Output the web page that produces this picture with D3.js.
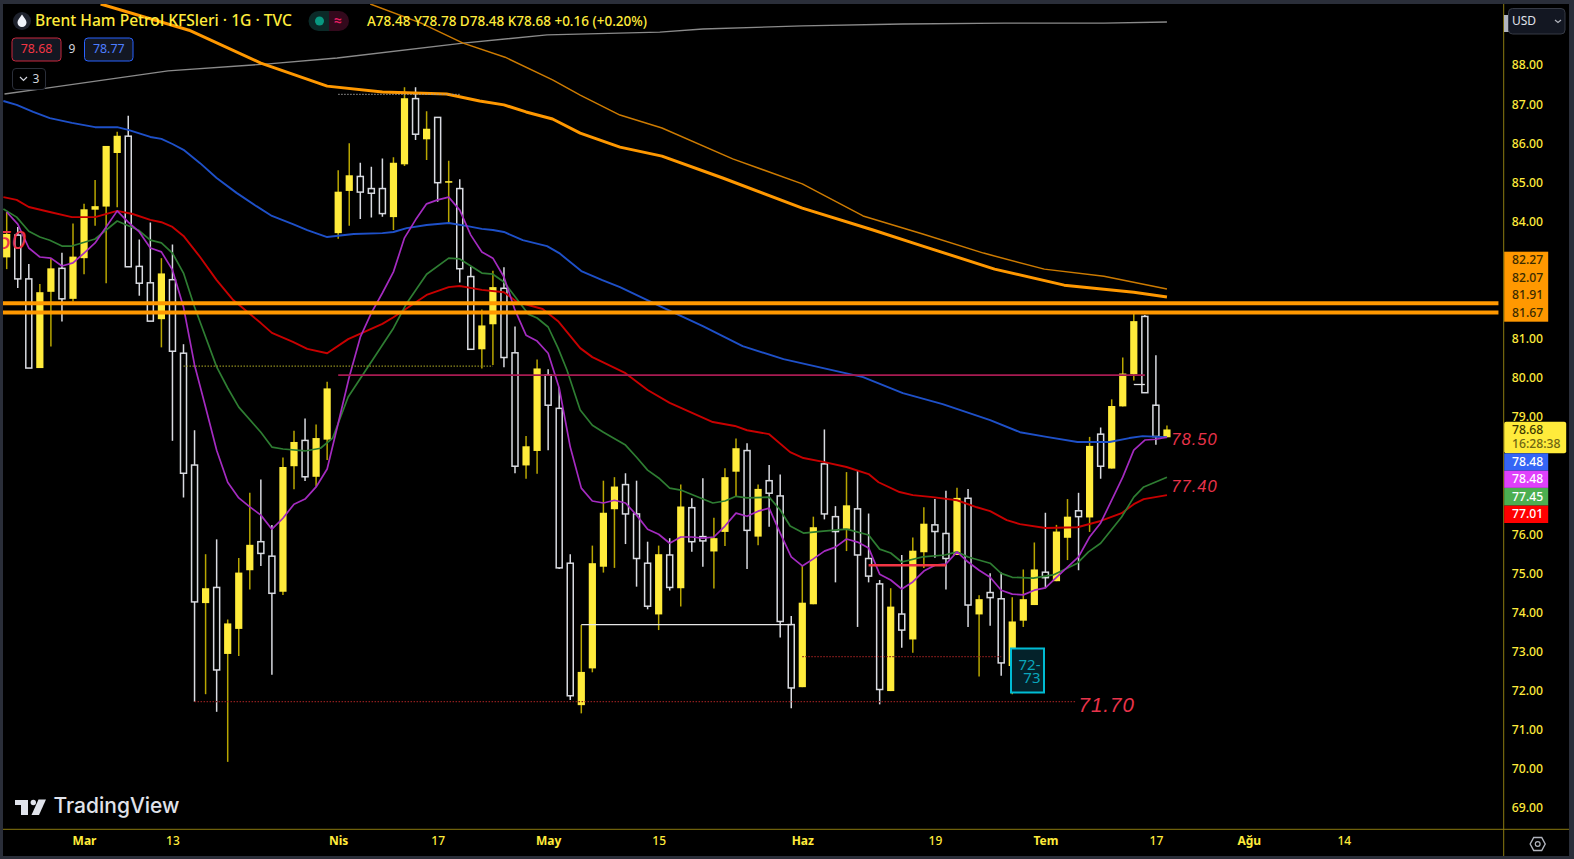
<!DOCTYPE html>
<html><head><meta charset="utf-8"><title>Brent</title>
<script src="https://cdn.jsdelivr.net/npm/d3@7"></script>
<style>
html,body{margin:0;padding:0;background:#000;overflow:hidden}
text{font-family:"Noto Sans",Roboto,sans-serif}
</style></head><body>
<svg id="c" width="1574" height="859"></svg>
<script>
const candleOpen=[83.08,83.65,82.53,80.25,82.20,82.80,82.02,83.06,84.30,84.38,85.75,86.18,82.85,82.43,81.50,82.51,80.63,77.77,74.24,74.64,72.94,73.58,75.08,75.81,75.44,74.53,77.74,78.40,77.47,78.42,83.70,84.78,85.15,84.84,84.84,84.11,85.46,87.14,86.10,86.66,84.99,84.84,82.59,80.73,81.37,82.29,80.64,77.76,78.13,80.07,79.22,75.26,71.63,72.57,75.17,76.64,77.27,76.52,75.26,73.95,75.47,74.62,76.68,75.94,75.56,76.06,77.60,78.14,75.94,77.37,76.98,73.69,72.09,74.21,77.80,76.45,76.14,76.65,75.38,74.73,71.99,73.96,73.31,75.54,76.24,76.02,75.47,76.92,73.95,74.51,74.35,72.63,73.79,74.19,75.03,74.80,75.91,76.60,76.43,78.56,77.68,79.27,80.09,81.57,79.30,78.48];
const candleHigh=[84.25,83.86,82.91,82.40,83.04,83.20,83.95,84.45,85.06,85.93,86.29,86.70,83.54,83.97,83.06,83.41,80.86,78.66,75.49,75.87,73.82,75.39,77.06,77.40,76.24,77.96,78.65,78.96,78.81,79.90,85.31,86.00,85.50,85.40,85.61,85.64,87.43,87.43,86.82,86.66,85.55,85.08,82.84,81.75,82.74,82.83,81.31,78.51,80.47,80.22,79.76,75.49,73.68,75.71,77.37,77.46,77.56,77.37,75.81,75.71,75.90,77.27,76.92,77.43,76.42,77.69,78.45,78.33,77.27,77.77,77.53,73.91,75.21,76.45,78.68,76.72,77.59,77.64,76.53,74.83,74.62,75.47,75.92,76.69,76.90,77.11,77.19,77.16,74.44,75.00,75.02,74.39,75.10,75.79,76.55,76.24,76.90,77.06,78.49,78.73,79.45,80.52,81.63,81.61,80.58,78.78];
const candleLow=[82.78,82.30,80.25,80.25,80.80,81.44,81.95,82.65,83.89,82.42,84.36,82.84,82.10,81.45,80.78,78.39,76.94,71.72,71.91,71.46,70.18,72.89,74.59,75.19,72.41,74.45,77.15,77.36,77.22,77.90,83.56,83.89,84.06,84.10,84.12,83.78,85.42,86.08,85.57,84.50,83.95,82.44,80.73,80.24,80.33,80.27,77.56,77.42,77.55,78.15,75.11,71.76,71.42,72.47,75.02,75.14,75.75,74.66,74.08,73.55,74.56,74.15,75.55,75.17,74.61,75.70,76.98,75.11,75.72,76.19,73.36,71.55,72.09,74.21,76.38,74.77,75.57,73.63,74.77,71.65,71.99,73.10,72.97,75.14,75.40,74.59,75.47,73.63,72.36,73.66,72.38,71.91,73.63,74.19,74.62,74.80,75.34,75.08,76.06,77.42,77.68,79.27,79.93,79.62,78.29,78.48];
const candleClose=[83.68,82.53,80.25,82.19,82.80,82.02,83.10,84.31,84.39,85.93,86.19,82.84,82.42,81.45,82.67,80.68,77.56,74.27,74.62,72.53,73.72,75.02,75.73,75.51,74.49,77.72,78.36,77.47,78.46,79.73,84.76,85.18,84.75,84.72,84.20,85.50,87.15,86.23,86.37,84.99,85.03,82.79,80.73,81.34,82.32,80.52,77.74,78.25,80.24,79.30,75.14,71.87,72.48,75.26,76.55,77.22,76.52,75.38,74.16,75.49,74.64,76.71,75.81,75.83,75.90,77.46,78.20,76.10,77.16,77.05,73.77,72.07,74.25,76.18,76.52,76.07,76.74,75.47,74.93,72.03,74.15,73.55,75.58,76.27,76.07,75.38,76.93,74.19,74.34,74.38,72.71,73.77,74.34,75.10,74.89,76.07,76.45,76.45,78.26,77.74,79.28,80.11,81.45,79.62,78.50,78.68];

const emaPurple=[84.24,83.93,83.32,83.09,83.06,82.86,82.94,83.19,83.45,83.86,84.27,83.98,83.73,83.32,83.22,82.76,81.81,80.33,79.25,78.15,77.33,76.93,76.70,76.49,76.13,76.41,76.77,76.90,77.21,77.67,78.84,80.02,81.04,81.66,82.17,82.71,83.58,84.04,84.45,84.55,84.62,84.29,83.65,83.22,83.06,82.58,81.73,81.09,80.94,80.63,79.74,78.23,77.18,76.85,76.80,76.87,76.80,76.49,76.13,76.00,75.77,75.93,75.93,75.90,75.93,76.21,76.54,76.46,76.59,76.67,76.03,75.42,75.19,75.37,75.57,75.67,75.88,75.80,75.65,74.98,74.83,74.60,74.78,75.06,75.21,75.24,75.55,75.29,75.08,74.90,74.57,74.47,74.45,74.57,74.63,74.90,75.16,75.42,75.93,76.29,76.87,77.46,78.15,78.41,78.43,78.48];

const greenBars=[-0.3,0.9,2,3,3.9,5,5.9,8,10,11.9,13,14,15,16,17,19,20,21,23,24,25,27,28.4,29.5,30.9,34,35,36.2,38,40,41,43,44,45,47.2,48,49,49.9,50.7,51.9,53,54,56,57,58,59,60,61,63.9,65,66,67,69,70,70.9,72.1,73.9,76,78,79,80,81,82.9,84.9,86,87,89,90,91,92.9,94.7,96.9,97.9,99,100.9,102,102.9,105];
const greenVals=[84.32,84.11,83.75,83.60,83.52,83.37,83.37,83.55,84.01,83.78,83.52,83.45,83.19,82.68,81.81,80.28,79.74,79.25,78.61,78.23,78.18,78.13,78.20,78.46,79.51,80.84,81.27,81.91,82.65,83.06,83.04,82.68,82.65,82.45,81.63,81.53,81.30,80.76,80.20,79.18,78.79,78.61,78.28,77.97,77.64,77.44,77.18,77.13,76.80,76.85,76.97,76.93,76.95,76.62,76.21,76.03,76.08,76.13,75.98,75.62,75.52,75.29,75.42,75.47,75.55,75.42,75.26,75.00,74.90,74.88,74.96,75.26,75.55,75.77,76.44,76.95,77.21,77.46];

const redBars=[-0.3,0.9,2,3.9,5.9,8,10,11.4,13,14,15,16,17.5,19,20.5,23,24,25.9,27.2,29,30.9,34,35,38,40,41,43,45,46.2,48.5,49.9,51.9,53,56,58,60,63.9,65.9,67,69,70.9,72.1,73.9,76,78,78.9,80.8,82,83.8,86,87.8,89,90.5,91.7,94,96.9,99,100.9,102,102.9,105];
const redVals=[84.62,84.55,84.37,84.24,84.11,84.11,84.27,84.19,84.04,83.98,83.86,83.63,83.09,82.50,81.99,81.40,81.15,80.92,80.74,80.63,80.99,81.38,81.55,82.12,82.32,82.35,82.25,82.19,81.94,81.76,81.45,80.76,80.53,80.12,79.69,79.36,78.87,78.77,78.66,78.56,78.10,77.95,77.85,77.72,77.54,77.33,77.08,77.00,76.95,76.87,76.69,76.59,76.36,76.26,76.16,76.18,76.34,76.54,76.77,76.90,77.00];

const blueBars=[-0.3,0.9,2.4,3.9,5.9,8,10,11,13,14,15,16,17.5,19,20.8,22.6,24,25.9,27.2,29,31.4,34,35,36.2,38,40,41.7,43,44,45,46.7,48.9,50,52,53.9,55.5,59.3,63,66.6,70.3,73.9,77.5,81.1,84.7,89,91.7,94.1,96.9,99.8,101.6,102.8,105];
const blueVals=[87.08,86.98,86.80,86.64,86.52,86.41,86.41,86.34,86.16,86.11,85.98,85.83,85.49,85.11,84.73,84.39,84.14,83.93,83.78,83.60,83.68,83.70,83.73,83.83,83.91,83.96,83.88,83.81,83.78,83.73,83.52,83.37,83.19,82.73,82.50,82.32,81.81,81.32,80.81,80.48,80.25,80.02,79.61,79.33,78.92,78.61,78.49,78.36,78.36,78.46,78.51,78.48];

const orangeBars=[8.5,16.5,23,29,34,39.8,42.8,45,47,49.4,51.9,55.5,59.3,64.8,72,78.4,82.9,89.4,95.7,102,105];
const orangeVals=[89.56,88.89,88.05,87.46,87.31,87.26,87.08,86.98,86.80,86.62,86.26,85.90,85.67,85.11,84.34,83.78,83.37,82.78,82.37,82.19,82.07];
const thinOrangeBars=[32.9,37.5,41.3,45.1,49.4,51.9,55.5,59.3,65.7,72,77.5,82.9,88.4,93.9,99.3,105];
const thinOrangeVals=[89.56,89.07,88.56,88.20,87.62,87.23,86.72,86.39,85.60,84.96,84.14,83.68,83.19,82.78,82.60,82.27];
const greyBars=[-0.2,3.6,14.6,23.7,29.9,41.3,48.9,59.1,63,72,81.1,90.3,99.3,105];
const greyVals=[87.26,87.41,87.85,88.03,88.18,88.56,88.77,88.84,88.92,89.00,89.05,89.07,89.07,89.10];

const priceTicks=[88,87,86,85,84,81,80,79,76,75,74,73,72,71,70,69];
const timeTickBars=[7,15,30,39,49,59,72,84,94,104,112.4,121];
const timeTickLabels=["Mar","13","Nis","17","May","15","Haz","19","Tem","17","Ağu","14"];
const boldTimeLabels=["Mar","Nis","May","Haz","Tem","Ağu"];

const levelLines=[
 {p:81.91,a:-1,b:135,s:"#ff9800",w:4,d:null},
 {p:81.67,a:-1,b:135,s:"#ff9800",w:4,d:null},
 {p:87.25,a:30,b:41,s:"#9a9a9a",w:1,d:"1.5 1.5"},
 {p:80.30,a:16,b:44,s:"#8d8b1f",w:1.2,d:"1.5 1.5"},
 {p:80.07,a:30,b:103,s:"#a81b52",w:1.6,d:null},
 {p:71.72,a:17,b:96.8,s:"#8c1d1d",w:1.2,d:"1.5 1.5"},
 {p:73.69,a:52,b:71,s:"#e6e6e6",w:1.3,d:null},
 {p:72.87,a:72,b:90,s:"#8c1d1d",w:1.2,d:"1.5 1.5"},
 {p:75.21,a:78,b:85,s:"#f23645",w:2.5,d:null},
 {p:79.83,a:102,b:103,s:"#e6e6e6",w:1.3,d:null}
];
const noteLabels=[
 {t:"78.50",bar:105.4,p:78.39,size:16.5},
 {t:"77.40",bar:105.4,p:77.19,size:16.5},
 {t:"71.70",bar:97,p:71.60,size:20.5},
 {t:"50",bar:-0.9,p:83.46,size:25}
];

const W=1574,H=859,AX=1503.7,AY=829.3;
const x=d3.scaleLinear().domain([0,105]).range([6.7,6.7+105*11.05]);
const y=d3.scaleLinear().domain([88,69]).range([65,808]);
const svg=d3.select("#c");
const defs=svg.append("defs");
defs.append("clipPath").attr("id","pane").append("rect").attr("x",3).attr("y",4).attr("width",AX-3).attr("height",AY-4);
const pane=svg.append("g").attr("clip-path","url(#pane)");
const YEL="#ffeb3b",YW="#b8a600",WW="#d8dae0";

/* candles */
const data=candleOpen.map((o,i)=>({i,o,h:candleHigh[i],l:candleLow[i],c:candleClose[i]}));
const cg=pane.append("g");
cg.selectAll("line").data(data).join("line")
 .attr("x1",d=>x(d.i)).attr("x2",d=>x(d.i)).attr("y1",d=>y(d.h)).attr("y2",d=>y(d.l))
 .attr("stroke",d=>d.c>=d.o?YW:WW).attr("stroke-width",1.5);
cg.selectAll("rect").data(data).join("rect")
 .attr("x",d=>x(d.i)-(d.c>=d.o?3.6:3))
 .attr("width",d=>d.c>=d.o?7.2:6)
 .attr("y",d=>y(Math.max(d.o,d.c)))
 .attr("height",d=>Math.max(1.5,Math.abs(y(d.o)-y(d.c))))
 .attr("fill",d=>d.c>=d.o?YEL:"#000")
 .attr("stroke",d=>d.c>=d.o?"none":WW).attr("stroke-width",1.5);

/* moving averages */
const line=d3.line().x(d=>x(d[0])).y(d=>y(d[1]));
const zip=(a,b)=>a.map((v,i)=>[v,b[i]]);
[[greyBars,greyVals,"#8a8a8a",1.4],
 [thinOrangeBars,thinOrangeVals,"#cc7a00",1.5],
 [orangeBars,orangeVals,"#ff9800",3],
 [blueBars,blueVals,"#1e50c8",1.9],
 [redBars,redVals,"#c80000",1.9],
 [greenBars,greenVals,"#2e7d32",1.7],
 [emaPurple.map((_,i)=>i),emaPurple,"#a42bc0",1.7]
].forEach(s=>pane.append("path").attr("d",line(zip(s[0],s[1]))).attr("fill","none").attr("stroke",s[2]).attr("stroke-width",s[3]).attr("stroke-linejoin","round"));

/* horizontal levels */
pane.selectAll("line.lv").data(levelLines).join("line").attr("class","lv")
 .attr("x1",d=>x(d.a)).attr("x2",d=>x(d.b)).attr("y1",d=>y(d.p)).attr("y2",d=>y(d.p))
 .attr("stroke",d=>d.s).attr("stroke-width",d=>d.w).attr("stroke-dasharray",d=>d.d);

/* note labels */
pane.selectAll("text.note").data(noteLabels).join("text").attr("class","note")
 .attr("x",d=>x(d.bar)).attr("y",d=>y(d.p)).attr("dominant-baseline","middle")
 .attr("font-size",d=>d.size).attr("font-style","italic").attr("letter-spacing",1)
 .attr("fill","#e8334a").text(d=>d.t)
 .style("font-family","'Liberation Sans',sans-serif");

/* 72-73 box */
const bx=pane.append("g");
bx.append("rect").attr("x",1011).attr("y",648.5).attr("width",33).attr("height",44)
 .attr("fill","#04222a").attr("stroke","#00bcd4").attr("stroke-width",2);
const bxt=bx.append("text").attr("text-anchor","end").attr("font-size",15).attr("fill","#0aa5bb");
["72-","73"].forEach((t,i)=>bxt.append("tspan").attr("x",1040.5).attr("y",669.5+i*13).text(t));

/* frame */
[[0,0,W,4],[0,0,3,H],[1569,0,5,H],[0,856,W,3]].forEach(r=>svg.append("rect").attr("x",r[0]).attr("y",r[1]).attr("width",r[2]).attr("height",r[3]).attr("fill","#2a2e39"));
const AC="#8a7a10";
svg.append("line").attr("x1",3).attr("x2",1569).attr("y1",AY).attr("y2",AY).attr("stroke",AC).attr("stroke-width",1);
svg.append("line").attr("x1",AX).attr("x2",AX).attr("y1",4).attr("y2",856).attr("stroke",AC).attr("stroke-width",1);

/* axes */
const yAxis=svg.append("g").attr("transform",`translate(${AX-4},0)`)
 .call(d3.axisRight(y).tickValues(priceTicks).tickSize(0).tickPadding(12).tickFormat(d3.format(".2f")));
yAxis.select(".domain").remove();
yAxis.selectAll("text").attr("fill",YEL).attr("font-size",12.2).attr("font-weight",500).style("font-family","'Noto Sans',sans-serif");
const xAxis=svg.append("g").attr("transform",`translate(0,${AY})`)
 .call(d3.axisBottom(x).tickValues(timeTickBars).tickSize(0).tickPadding(7).tickFormat((d,i)=>timeTickLabels[i]));
xAxis.select(".domain").remove();
xAxis.selectAll("text").attr("fill",YEL).attr("font-size",12)
 .attr("font-weight",(d,i)=>boldTimeLabels.includes(timeTickLabels[i])?700:500).style("font-family","'Noto Sans',sans-serif");

/* price tags */
const tag=(y0,y1,fill,txt,tc)=>{
 svg.append("rect").attr("x",AX+.5).attr("y",y0).attr("width",44).attr("height",y1-y0).attr("fill",fill);
 svg.append("text").attr("x",1512).attr("y",(y0+y1)/2+.5).attr("dominant-baseline","middle").attr("font-size",12.2).attr("font-weight",500).attr("fill",tc).text(txt);
};
svg.append("rect").attr("x",AX+.5).attr("y",251.7).attr("width",44).attr("height",70).attr("fill","#ff9800");
["82.27","82.07","81.91","81.67"].forEach((t,i)=>svg.append("text").attr("x",1512).attr("y",260.7+i*17.5+.5).attr("dominant-baseline","middle").attr("font-size",12.2).attr("font-weight",500).attr("fill","#3a2a00").text(t));
svg.append("rect").attr("x",AX+.5).attr("y",421.7).attr("width",62).attr("height",31.6).attr("rx",2).attr("fill",YEL);
svg.append("text").attr("x",1512).attr("y",430.5).attr("dominant-baseline","middle").attr("font-size",12.2).attr("font-weight",500).attr("fill","#3d3800").text("78.68");
svg.append("text").attr("x",1512).attr("y",445).attr("dominant-baseline","middle").attr("font-size",12.2).attr("font-weight",500).attr("fill","#6e6512").text("16:28:38");
tag(453.3,470.7,"#3565f5","78.48","#fff");
tag(470.7,487.9,"#e040fb","78.48","#fff");
tag(487.9,505.6,"#4caf50","77.45","#fff");
tag(505.6,523,"#ff0000","77.01","#fff");

/* header */
const hd=svg.append("g");
hd.append("circle").attr("cx",22).attr("cy",21).attr("r",9).attr("fill","#1e222d");
hd.append("path").attr("d","M22 14.5C24.5 18 26.5 20 26.5 22.6A4.5 4.5 0 0 1 17.5 22.6C17.5 20 19.5 18 22 14.5Z").attr("fill","#f0f3fa");
hd.append("text").attr("x",35).attr("y",21.5).attr("dominant-baseline","middle").attr("font-size",15.6).attr("font-weight",500).attr("fill",YEL).text("Brent Ham Petrol KFSleri · 1G · TVC");
hd.append("path").attr("d","M329 11H318.5A10 10 0 0 0 318.5 31H329Z").attr("fill","#0b2a28");
hd.append("path").attr("d","M329 11H339A10 10 0 0 1 339 31H329Z").attr("fill","#33091c");
hd.append("circle").attr("cx",319.5).attr("cy",21).attr("r",4.5).attr("fill","#089981");
hd.append("text").attr("x",338).attr("y",21.5).attr("text-anchor","middle").attr("dominant-baseline","middle").attr("font-size",14).attr("font-weight",700).attr("fill","#e91e63").text("≈");
hd.append("text").attr("x",367).attr("y",22).attr("dominant-baseline","middle").attr("font-size",13.5).attr("font-weight",500).attr("fill",YEL).text("A78.48 Y78.78 D78.48 K78.68 +0.16 (+0.20%)");
const btn=(x0,x1,y0,y1,st,tc,t)=>{
 hd.append("rect").attr("x",x0).attr("y",y0).attr("width",x1-x0).attr("height",y1-y0).attr("rx",3.5).attr("fill","#131722").attr("stroke",st).attr("stroke-width",1);
 if(t)hd.append("text").attr("x",(x0+x1)/2).attr("y",(y0+y1)/2+.5).attr("text-anchor","middle").attr("dominant-baseline","middle").attr("font-size",12.4).attr("fill",tc).text(t);
};
btn(12,61,38,61,"#c9283e","#f23645","78.68");
hd.append("text").attr("x",72).attr("y",50).attr("text-anchor","middle").attr("dominant-baseline","middle").attr("font-size",12).attr("fill","#d1d4dc").text("9");
btn(84.5,133,38,61,"#2962ff","#4d7dff","78.77");
hd.append("rect").attr("x",12.5).attr("y",68.5).attr("width",33).attr("height",21).attr("rx",3.5).attr("fill","#000").attr("stroke","#2a2e39");
hd.append("path").attr("d","M20 77L23.5 80.5L27 77").attr("fill","none").attr("stroke","#d1d4dc").attr("stroke-width",1.2);
hd.append("text").attr("x",36).attr("y",79.5).attr("text-anchor","middle").attr("dominant-baseline","middle").attr("font-size",12).attr("fill","#d1d4dc").text("3");

/* USD button */
svg.append("rect").attr("x",1504).attr("y",15).attr("width",5).attr("height",17).attr("fill","#b2b5be");
svg.append("rect").attr("x",1508.5).attr("y",8.5).attr("width",56.5).attr("height",25.5).attr("rx",4).attr("fill","#131722").attr("stroke","#363a45");
svg.append("text").attr("x",1512).attr("y",21.5).attr("dominant-baseline","middle").attr("font-size",12).attr("fill","#e0e3eb").text("USD");
svg.append("path").attr("d","M1555 20L1558 22.5L1561 20").attr("fill","none").attr("stroke","#b2b5be").attr("stroke-width",1.2);

/* settings hexagon */
svg.append("path").attr("d","M1533.7 837.5H1541.7L1545.2 844L1541.7 850.5H1533.7L1530.2 844Z").attr("fill","none").attr("stroke","#b2b5be").attr("stroke-width",1.4);
svg.append("circle").attr("cx",1537.7).attr("cy",844).attr("r",2.4).attr("fill","none").attr("stroke","#b2b5be").attr("stroke-width",1.2);

/* logo */
const lg=svg.append("g");
lg.append("path").attr("d","M15 800H28V815H21V805H15Z").attr("fill","#e0e3eb");
lg.append("circle").attr("cx",33.3).attr("cy",802.5).attr("r",2.7).attr("fill","#e0e3eb");
lg.append("path").attr("d","M38.5 799.5H46L39 815H31.5Z").attr("fill","#e0e3eb");
lg.append("text").attr("x",53.5).attr("y",807.5).attr("dominant-baseline","middle").attr("font-size",21).attr("font-weight",500).attr("fill","#e0e3eb").style("font-family","Inter,sans-serif").text("TradingView");
</script>
</body></html>
